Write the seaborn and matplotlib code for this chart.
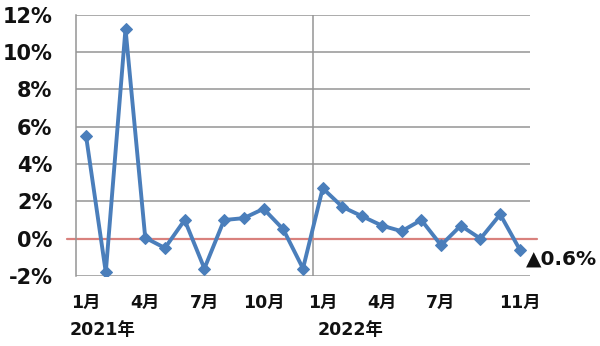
import matplotlib
matplotlib.use("Agg")
import matplotlib.pyplot as plt
import seaborn as sns
import pandas as pd
import numpy as np

months = ["2021-01","2021-02","2021-03","2021-04","2021-05","2021-06","2021-07","2021-08",
          "2021-09","2021-10","2021-11","2021-12","2022-01","2022-02","2022-03","2022-04",
          "2022-05","2022-06","2022-07","2022-08","2022-09","2022-10","2022-11"]
values = [5.5, -1.8, 11.25, 0.05, -0.5, 1.0, -1.6, 1.0, 1.1, 1.6, 0.5, -1.6,
          2.7, 1.7, 1.2, 0.7, 0.4, 1.0, -0.35, 0.7, 0.0, 1.3, -0.6]
tick_idx = [0, 3, 6, 9, 12, 15, 18, 22]
tick_labels = ["1月", "4月", "7月", "10月", "1月", "4月", "7月", "11月"]
year_labels = ["2021年", "2022年"]
y_ticks = [-2, 0, 2, 4, 6, 8, 10, 12]
last_label = "▲0.6%"

sns.set_style("white")
plt.rcParams['font.family'] = ['DejaVu Sans', 'Noto Sans CJK JP']
txt = "#111111"

df = pd.DataFrame({"i": np.arange(len(values)), "v": values})

fig = plt.figure(figsize=(6, 3.46), dpi=100)
ax = fig.add_axes([0.127, 0.2023, 0.756, 0.7552])

for y in y_ticks:
    ax.axhline(y, color="#959595", lw=1.1, zorder=1)
ax.plot([-0.96, 22.85], [0, 0], color="#d9817d", lw=1.6, clip_on=False, zorder=2)
ax.axvline(11.5, color="#959595", lw=1.1, zorder=1)

sns.lineplot(data=df, x="i", y="v", ax=ax, color="#4a7ebb", lw=2.8,
             marker="D", markersize=6.5, markeredgecolor="#4a7ebb", zorder=3)

ax.set_xlim(-0.5, 22.5)
ax.set_ylim(-2, 12)
ax.set_yticks(y_ticks)
ax.set_yticklabels([f"{t}%" for t in y_ticks], fontsize=15, fontweight="bold", color=txt)
ax.set_xticks(tick_idx)
ax.set_xticklabels(tick_labels, fontsize=12.5, fontweight="bold", color=txt)
ax.tick_params(axis="x", length=0, pad=13)
ax.tick_params(axis="y", length=0, pad=17)
ax.set_xlabel("")
ax.set_ylabel("")
for s in ["top", "right", "bottom"]:
    ax.spines[s].set_visible(False)
ax.spines["left"].set_color("#959595")
ax.spines["left"].set_linewidth(1.1)

ax.text(0.82, -4.9, year_labels[0], fontsize=12.5, fontweight="bold", ha="center", va="center", color=txt)
ax.text(13.43, -4.9, year_labels[1], fontsize=12.5, fontweight="bold", ha="center", va="center", color=txt)
ax.text(22.3, values[-1] - 0.5, last_label, fontsize=14.5, fontweight="bold", ha="left", va="center", color=txt)

fig.savefig("out.png", dpi=100)
